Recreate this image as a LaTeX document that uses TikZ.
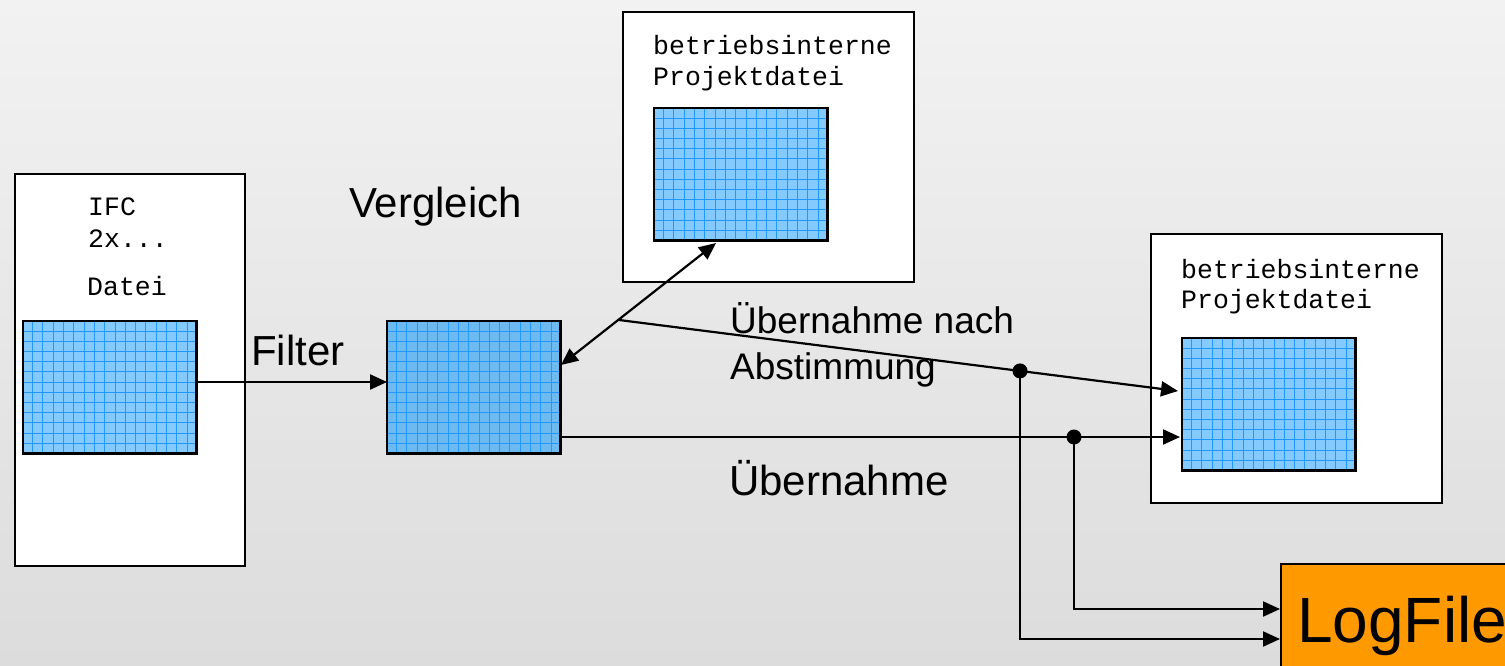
\documentclass[tikz,border=0pt]{standalone}
\usepackage{fontspec}
\setmainfont{Liberation Sans}
\newfontfamily\monofont{Liberation Mono}
\usetikzlibrary{arrows.meta,calc}

\definecolor{bgtop}{RGB}{242,242,242}
\definecolor{bgbottom}{RGB}{220,220,220}
\definecolor{cellfill}{RGB}{132,202,255}
\definecolor{cellfilldark}{RGB}{108,186,240}
\definecolor{cellline}{RGB}{34,152,255}
\definecolor{logorange}{RGB}{255,153,0}

% a blue grid sheet: name, left, top, fill colour
\newcommand\gridsheet[4]{%
  \node[sheet, fill=#4] (#1) at (#2,#3) {};
  \begin{scope}
    \clip (#1.north west) rectangle (#1.south east);
    \foreach \k in {0,...,16}
      \draw[cellgrid] ($(#1.north west)+(9.5+10.3*\k,0)$) -- +(0,132);
    \foreach \k in {0,...,12}
      \draw[cellgrid] ($(#1.north west)+(0,10+10.2*\k)$) -- +(173,0);
  \end{scope}
  \draw[line width=2.2pt] (#1.north west) rectangle (#1.south east);
}

\begin{document}
\begin{tikzpicture}[x=1pt,y=-1pt,
  filebox/.style={draw=black, line width=2.2pt, fill=white, anchor=north west, inner sep=0pt},
  sheet/.style={anchor=north west, inner sep=0pt, minimum width=173pt, minimum height=132pt},
  cellgrid/.style={draw=cellline, line width=0.8pt},
  mono/.style={anchor=base west, inner sep=0pt, font=\monofont\fontsize{26.5}{30}\selectfont},
  label/.style={anchor=base west, inner sep=0pt, font=\fontsize{42}{48}\selectfont},
  smalllabel/.style={anchor=base west, inner sep=0pt, font=\fontsize{37}{44}\selectfont},
  conn/.style={line width=2.2pt, -{Triangle[length=17pt,width=15pt]}},
  bothconn/.style={line width=2.2pt, {Triangle[length=17pt,width=15pt]}-{Triangle[length=17pt,width=15pt]}},
  dot/.style={circle, fill=black, inner sep=0pt, minimum size=15pt}]

% background
\useasboundingbox (0,0) rectangle (1505,666);
\clip (0,0) rectangle (1505,666);
\shade[top color=bgtop, bottom color=bgbottom] (0,0) rectangle (1505,666);

% IFC file
\node[filebox, minimum width=230pt, minimum height=392pt] (ifc) at (14,173) {};
\node[mono] (ifcname) at (88,215) {IFC};
\node[mono] (ifcver) at (88,247) {2x...};
\node[mono] (ifcfile) at (87,295) {Datei};
\gridsheet{ifcgrid}{23}{321}{cellfill}

% filtered model
\gridsheet{mid}{387}{321}{cellfilldark}

% internal project file (top)
\node[filebox, minimum width=291pt, minimum height=270pt] (proj) at (622,11) {};
\node[mono] (projname) at (653,55) {betriebsinterne};
\node[mono] (projfile) at (653,86) {Projektdatei};
\gridsheet{projgrid}{654}{108}{cellfill}

% internal project file (right)
\node[filebox, minimum width=291pt, minimum height=269pt] (target) at (1150,233) {};
\node[mono] (targetname) at (1181,278) {betriebsinterne};
\node[mono] (targetfile) at (1181,308) {Projektdatei};
\gridsheet{targetgrid}{1182}{338}{cellfill}

% log file
\node[filebox, fill=logorange, minimum width=260pt, minimum height=140pt] (log) at (1280,563) {};
\node[anchor=base west, inner sep=0pt, font=\fontsize{64}{70}\selectfont] (logtext) at (1297,642) {LogFile};

% labels
\node[label] (vergleich) at (349,217) {Vergleich};
\node[label] (filter) at (251,365) {Filter};
\node[smalllabel] (nachlabel) at (730,333) {Übernahme nach};
\node[smalllabel] (abstlabel) at (730,379) {Abstimmung};
\node[label] (uebernahme) at (729,495) {Übernahme};

% connectors
\coordinate (filterfrom) at (197,382);
\draw[conn] (filterfrom) -- (mid.west |- filterfrom);

\coordinate (cmpmid) at (561,365);
\coordinate (cmpproj) at (716,243);
\draw[bothconn] (cmpmid) -- (cmpproj);

\coordinate (agreefrom) at (619,320);
\coordinate (agreeto) at (1178,391);
\draw[conn] (agreefrom) -- (agreeto);
\node[dot] (agreedot) at ($(agreefrom)!0.7174!(agreeto)$) {};

\coordinate (takefrom) at (561,437);
\coordinate (taketo) at (1180,437);
\draw[conn] (takefrom) -- (taketo);
\node[dot] (takedot) at (1074,437) {};

\coordinate (lowrow) at (0,639);
\coordinate (highrow) at (0,609);
\draw[conn] (agreedot.center) |- (log.west |- lowrow);
\draw[conn] (takedot.center) |- (log.west |- highrow);

\end{tikzpicture}
\end{document}
